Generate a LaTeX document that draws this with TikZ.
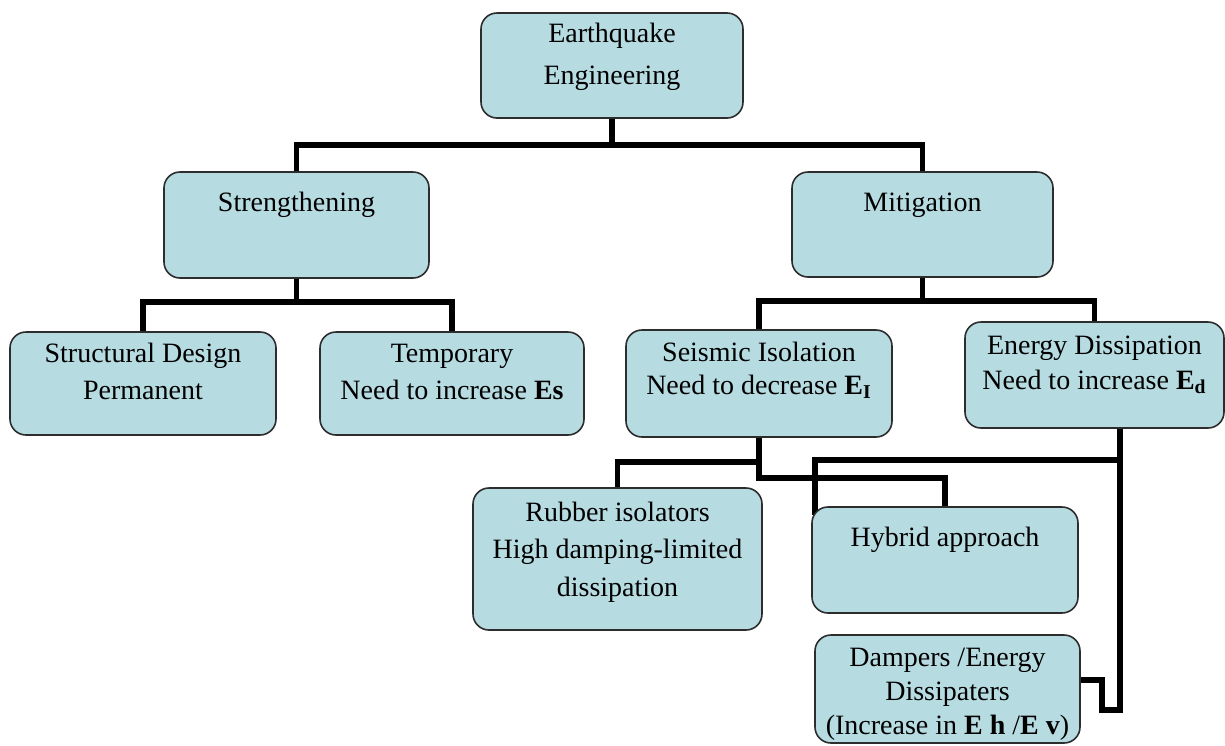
\documentclass[tikz,border=0pt]{standalone}
\usepackage{fontspec}
\setmainfont{Liberation Serif}
\usetikzlibrary{calc}
\pgfdeclarelayer{bg}
\pgfsetlayers{bg,main}
\definecolor{boxfill}{RGB}{182,220,226}
\definecolor{boxline}{RGB}{45,45,45}
\newcommand{\boxtext}[5]{\parbox[c][#2][t]{#1}{\centering\setlength{\baselineskip}{#3}\rule{0pt}{#4}#5\par}}
\tikzset{
  box/.style={draw=boxline, line width=0.8pt, fill=boxfill, rounded corners=8pt, inner sep=0pt, font=\fontsize{14}{18}\selectfont},
  wire/.style={line width=2.8pt, black}
}
\begin{document}
\begin{tikzpicture}[x=0.5pt, y=-0.5pt]
\useasboundingbox (0,0) rectangle (1225,745);

\node[box] (root) at (612,65.5) {\boxtext{131pt}{52.5pt}{21pt}{14.5pt}{Earthquake\\Engineering}};
\node[box] (strength) at (296.5,225) {\boxtext{132.5pt}{53pt}{18pt}{19.5pt}{Strengthening}};
\node[box] (mitig) at (922.5,224.5) {\boxtext{130.5pt}{52.5pt}{18pt}{19.5pt}{Mitigation}};
\node[box] (struct) at (143,383.5) {\boxtext{133pt}{51.5pt}{18.5pt}{15pt}{Structural Design\\Permanent}};
\node[box] (temp) at (452,383.5) {\boxtext{132pt}{51.5pt}{18.5pt}{15pt}{Temporary\\Need to increase \textbf{Es}}};
\node[box] (seismic) at (759,383.5) {\boxtext{133pt}{53.5pt}{16.5pt}{15.5pt}{Seismic Isolation\\Need to decrease \textbf{E\textsubscript{I}}}};
\node[box] (energy) at (1094.5,375) {\boxtext{129.5pt}{53pt}{17.5pt}{16pt}{Energy Dissipation\\Need to increase \textbf{E\textsubscript{d}}}};
\node[box] (rubber) at (617.5,559) {\boxtext{144.5pt}{71pt}{18.75pt}{16.5pt}{Rubber isolators\\High damping-limited\\dissipation}};
\node[box] (hybrid) at (945,560) {\boxtext{133pt}{53pt}{18pt}{19.5pt}{Hybrid approach}};
\node[box] (dampers) at (947.5,689) {\boxtext{132.5pt}{54pt}{17pt}{15.5pt}{Dampers /Energy\\Dissipaters\\(Increase in \textbf{E h} /\textbf{E v})}};

\coordinate (b1) at (612,145);
\coordinate (b2) at (296.5,302);
\coordinate (b3) at (922.5,301);
\coordinate (s1) at (759,462);
\coordinate (s2) at (759,478);
\coordinate (e1) at (1120,460);
\coordinate (hybtl) at (815,515);
\coordinate (d1) at (1102,680);
\coordinate (d2) at (1102,710);

\begin{pgfonlayer}{bg}
\fill[white] (0,0) rectangle (1225,745);
\draw[wire] (root.south) -- (b1);
\draw[wire] (strength.north) |- (b1) -| (mitig.north);
\draw[wire] (strength.south) -- (b2);
\draw[wire] (struct.north) |- (b2) -| (temp.north);
\draw[wire] (mitig.south) -- (b3);
\draw[wire] (seismic.north) |- (b3) -| (energy.north);
\draw[wire] (seismic.south) -- (s2) -| (hybrid.north);
\draw[wire] (rubber.north) |- (s1);
\draw[wire] (energy.south -| e1) -- (e1) -| (hybtl);
\draw[wire] (e1) |- (d2) -- (d1) -- (d1 -| dampers.east);
\end{pgfonlayer}
\end{tikzpicture}
\end{document}
